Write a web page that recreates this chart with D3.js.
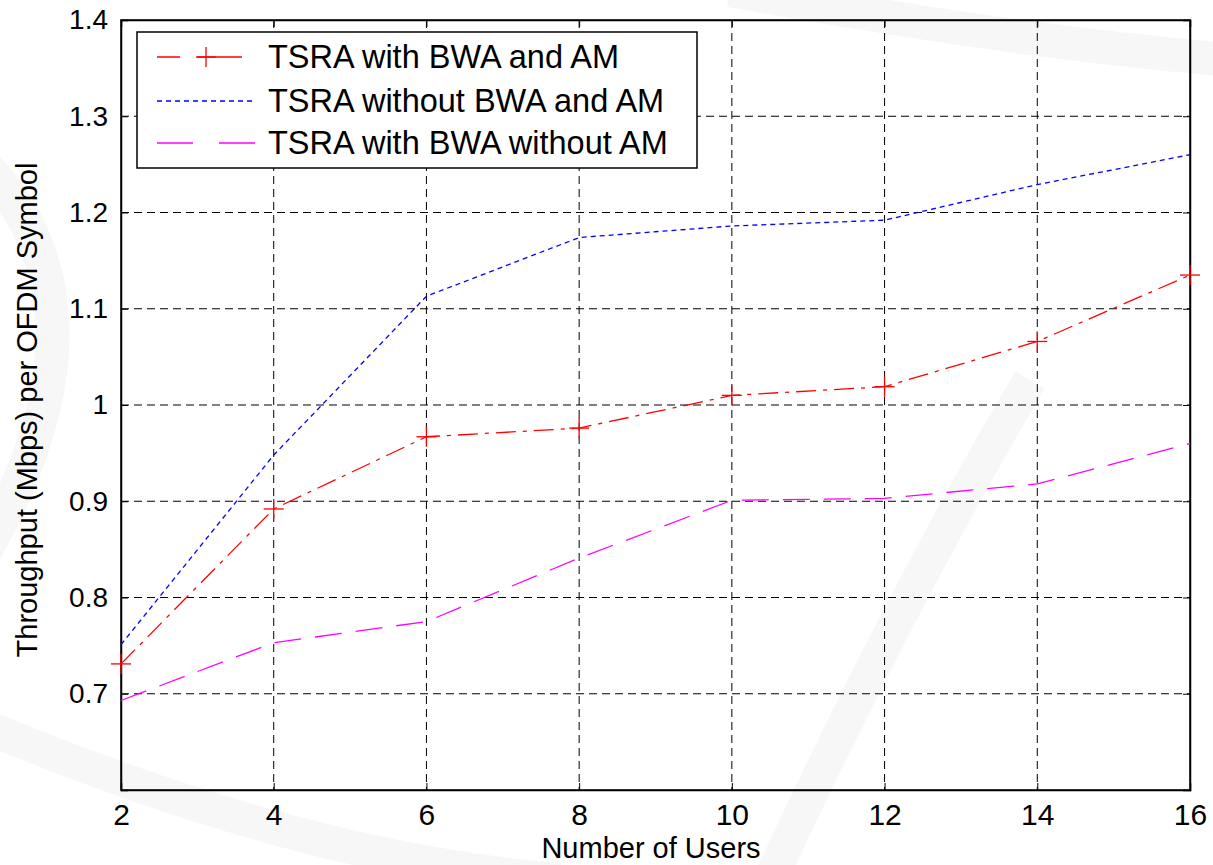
<!DOCTYPE html>
<html><head><meta charset="utf-8">
<script src="https://cdn.jsdelivr.net/npm/d3@7/dist/d3.min.js"></script>
<style>body{margin:0;background:#fff}</style>
</head><body>
<svg id="chart" width="1213" height="865"></svg>
<script>
const users = [2, 4, 6, 8, 10, 12, 14, 16];
const withBwaAndAm = [0.731, 0.892, 0.967, 0.976, 1.010, 1.019, 1.066, 1.135];
const withoutBwaAndAm = [0.751, 0.948, 1.113, 1.174, 1.186, 1.192, 1.229, 1.260];
const withBwaWithoutAm = [0.693, 0.753, 0.775, 0.841, 0.901, 0.903, 0.918, 0.960];
const xTicks = [2, 4, 6, 8, 10, 12, 14, 16];
const yTicks = [0.7, 0.8, 0.9, 1.0, 1.1, 1.2, 1.3, 1.4];
const seriesNames = ["TSRA with BWA and AM", "TSRA without BWA and AM", "TSRA with BWA without AM"];

const svg = d3.select("#chart");
const L = 121, R = 1190, T = 20, B = 790;
const x = d3.scaleLinear().domain([2, 16]).range([L, R]);
const y = d3.scaleLinear().domain([0.6, 1.4]).range([B, T]);
const FONT = "Liberation Sans, Arial, sans-serif";

// faint watermark arcs
const wm = svg.append("g").attr("fill", "none").attr("stroke", "#f7f7f7").attr("stroke-width", 34);
wm.append("path").attr("d", "M -30 150 Q 130 300 -20 560");
wm.append("path").attr("d", "M -30 720 Q 300 860 560 880");
wm.append("path").attr("d", "M 770 880 Q 900 600 1030 380");
wm.append("path").attr("d", "M 730 -10 Q 1000 40 1230 60");

// grid
const grid = svg.append("g").attr("stroke", "#000").attr("stroke-width", 1).attr("stroke-dasharray", "8,5");
grid.selectAll("line.v").data(xTicks.slice(1, -1)).join("line").attr("class", "v")
  .attr("x1", d => x(d)).attr("x2", d => x(d)).attr("y1", T).attr("y2", B);
grid.selectAll("line.h").data(yTicks.slice(0, -1)).join("line").attr("class", "h")
  .attr("x1", L).attr("x2", R).attr("y1", d => y(d)).attr("y2", d => y(d));

// axes (ticks inside, box)
const axB = svg.append("g").attr("transform", `translate(0,${B})`)
  .call(d3.axisBottom(x).tickValues(xTicks).tickSize(-7).tickPadding(14).tickFormat(d3.format("d")));
const axT = svg.append("g").attr("transform", `translate(0,${T})`)
  .call(d3.axisTop(x).tickValues(xTicks).tickSize(-7).tickFormat(""));
const axL = svg.append("g").attr("transform", `translate(${L},0)`)
  .call(d3.axisLeft(y).tickValues(yTicks).tickSize(-7).tickPadding(13).tickFormat(d => d === 1 ? "1" : d3.format(".1f")(d)));
const axR = svg.append("g").attr("transform", `translate(${R},0)`)
  .call(d3.axisRight(y).tickValues(yTicks).tickSize(-7).tickFormat(""));
[axB, axT, axL, axR].forEach(a => {
  a.select(".domain").attr("stroke", "#000").attr("stroke-width", 1.5);
  a.selectAll(".tick line").attr("stroke", "#000");
});
axB.selectAll("text").attr("font-family", FONT).attr("font-size", 30).attr("fill", "#000");
axL.selectAll("text").attr("font-family", FONT).attr("font-size", 28).attr("fill", "#000");
svg.append("rect").attr("x", L).attr("y", T).attr("width", R - L).attr("height", B - T)
  .attr("fill", "none").attr("stroke", "#000").attr("stroke-width", 1.5);

// labels
svg.append("text").attr("x", 651).attr("y", 858).attr("text-anchor", "middle")
  .attr("font-family", FONT).attr("font-size", 29).text("Number of Users");
svg.append("text").attr("transform", `translate(37,${410}) rotate(-90)`).attr("text-anchor", "middle")
  .attr("font-family", FONT).attr("font-size", 29).text("Throughput (Mbps) per OFDM Symbol");

// series
const line = d3.line().x((d, i) => x(users[i])).y(d => y(d));
const styles = [
  {data: withBwaAndAm, color: "#ff0000", dash: "20,7,4,7"},
  {data: withoutBwaAndAm, color: "#0000ff", dash: "5,4"},
  {data: withBwaWithoutAm, color: "#ff00ff", dash: "27,14"}
];
styles.forEach(s => {
  svg.append("path").datum(s.data).attr("d", line).attr("fill", "none")
    .attr("stroke", s.color).attr("stroke-width", 1.3).attr("stroke-dasharray", s.dash);
});
const plus = (g, cx, cy) => {
  g.append("line").attr("x1", cx - 10).attr("x2", cx + 10).attr("y1", cy).attr("y2", cy);
  g.append("line").attr("x1", cx).attr("x2", cx).attr("y1", cy - 10).attr("y2", cy + 10);
};
const mk = svg.append("g").attr("stroke", "#ff0000").attr("stroke-width", 1.3);
withBwaAndAm.forEach((v, i) => plus(mk, x(users[i]), y(v)));

// legend
const lg = svg.append("g");
lg.append("rect").attr("x", 137).attr("y", 32).attr("width", 560).attr("height", 136)
  .attr("fill", "#fff").attr("stroke", "#000").attr("stroke-width", 1.5);
const rowsY = [57, 101, 143];
rowsY.forEach((ry, i) => {
  lg.append("line").attr("x1", 157).attr("x2", i === 0 ? 242 : 255).attr("y1", ry).attr("y2", ry)
    .attr("stroke", styles[i].color).attr("stroke-width", 1.3)
    .attr("stroke-dasharray", i === 0 ? "23,17,60" : i === 1 ? "5,4" : "36,26,40");
  lg.append("text").attr("x", 268).attr("y", ry + 11).attr("font-family", FONT)
    .attr("font-size", 32.5).attr("fill", "#000").text(seriesNames[i]);
});
const lmk = lg.append("g").attr("stroke", "#ff0000").attr("stroke-width", 1.3);
plus(lmk, 206, rowsY[0]);
</script>
</body></html>
